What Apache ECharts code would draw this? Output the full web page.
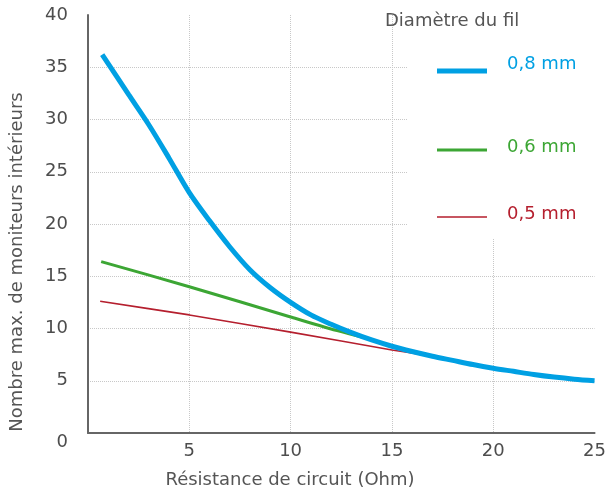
<!DOCTYPE html>
<html><head><meta charset="utf-8">
<script src="https://cdn.jsdelivr.net/npm/echarts@6/dist/echarts.min.js"></script>
<style>html,body{margin:0;padding:0;background:#fff}#c{width:609px;height:490px}</style>
</head><body><div id="c"></div>
<script>
var xTicks = [0, 5, 10, 15, 20, 25];
var yTicks = [0, 5, 10, 15, 20, 25, 30, 35, 40];
var seriesNames = ['0,8 mm', '0,6 mm', '0,5 mm'];
var wire08 = [[0.7,36.2],[2,32.4],[3,29.5],[4,26.3],[5,23.0],[6,20.3],[7,17.8],[8,15.6],[9,13.9],[10,12.5],[11,11.3],[12,10.4],[13,9.6],[14,8.9],[15,8.3],[16,7.8],[17,7.35],[18,6.95],[19,6.55],[20,6.2],[21,5.9],[22,5.6],[23,5.35],[24,5.15],[25,5.0]];
var wire06 = [[0.65,16.4],[5,14.0],[10,11.1],[12,9.95],[13.5,9.2],[14,8.9],[15,8.3]];
var wire05 = [[0.6,12.6],[5,11.3],[10,9.65],[15,7.95],[16.5,7.5],[17,7.35],[18,6.95]];
var colors = ['#00a0e3', '#3ca634', '#b51f2e'];
var widths = [5, 3, 1.6];
var smoothing = [0.3, 0.2, 0.2];
var dataSets = [wire08, wire06, wire05];

var chart = echarts.init(document.getElementById('c'));
var FONT = 'DejaVu Sans';
var FS = 18;
var legendTextY = [66, 149, 215.5];
var iconH = [18, 8, 7.6];
function lineIcon(w, h) {
  var t = h - w;
  return 'path://M0,0L50,0L50,0.01L0,0.01Z M0,' + t + 'L50,' + t + 'L50,' + h + 'L0,' + h + 'Z';
}
var option = {
  animation: false,
  textStyle: {fontFamily: FONT},
  grid: {left: 88, right: 12, top: 15, bottom: 57},
  title: [{
    text: 'Diamètre du fil', left: 380, top: 7,
    textStyle: {fontFamily: FONT, fontSize: FS, fontWeight: 'normal', color: '#555'}
  }],
  graphic: [{
    type: 'rect', left: 408, top: 0, z: 3, shape: {width: 201, height: 238}, style: {fill: '#fff'}
  }, {
    type: 'text', x: 17, y: 262, rotation: Math.PI / 2, z: 5,
    style: {text: 'Nombre max. de moniteurs intérieurs', fontFamily: FONT, fontSize: FS, fill: '#555', align: 'center', verticalAlign: 'middle'}
  }, {
    type: 'text', x: 290, y: 480, z: 5,
    style: {text: 'Résistance de circuit (Ohm)', fontFamily: FONT, fontSize: FS, fill: '#555', align: 'center', verticalAlign: 'middle'}
  }],
  legend: seriesNames.map(function (n, i) {
    return {
      data: [n], left: 437, top: legendTextY[i] - 10.5, padding: 0, itemWidth: 50, itemHeight: iconH[i], z: 6,
      icon: lineIcon(widths[i], iconH[i]),
      textStyle: {color: colors[i], fontSize: FS, fontFamily: FONT, padding: [0, 0, 0, 15]}
    };
  }),
  xAxis: {
    type: 'value', min: 0, max: 25, interval: 5,
    axisLine: {show: true, onZero: false, lineStyle: {color: '#666', width: 2}},
    axisTick: {show: false},
    axisLabel: {color: '#4d4d4d', fontSize: FS, margin: 9, formatter: function (v) { return v === 0 ? '' : String(v); }},
    splitLine: {show: true, showMinLine: false, showMaxLine: false, lineStyle: {color: '#c8c8c8', type: 'dotted', width: 1}}
  },
  yAxis: {
    type: 'value', min: 0, max: 40, interval: 5,
    axisLine: {show: true, lineStyle: {color: '#666', width: 2}},
    axisTick: {show: false},
    axisLabel: {color: '#4d4d4d', fontSize: FS, margin: 20,
      formatter: function (v) { return v === 0 ? '{z|0}' : String(v); },
      rich: {z: {fontSize: FS, color: '#4d4d4d', padding: [18, 0, 0, 0], fontFamily: FONT}}
    },
    splitLine: {show: true, showMinLine: false, showMaxLine: false, lineStyle: {color: '#c8c8c8', type: 'dotted', width: 1}}
  },
  series: seriesNames.map(function (n, i) {
    return {
      name: n, type: 'line', data: dataSets[i], symbol: 'none', showSymbol: false, smooth: smoothing[i],
      z: 10 - i,
      lineStyle: {color: colors[i], width: widths[i]}, itemStyle: {color: colors[i]}
    };
  })
};
chart.setOption(option);
</script></body></html>
